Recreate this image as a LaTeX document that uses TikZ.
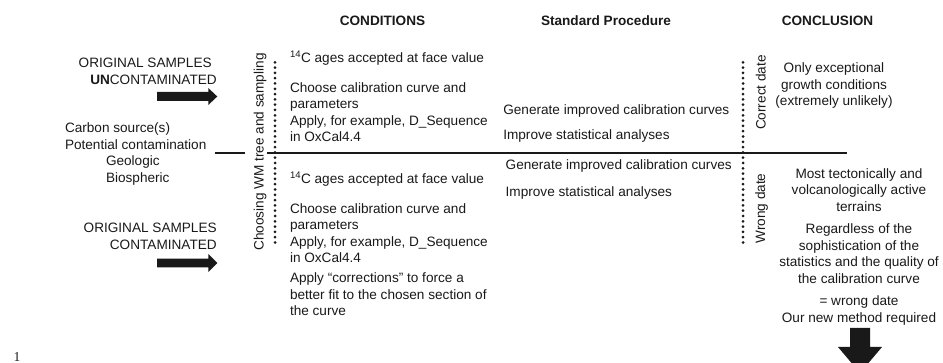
\documentclass[tikz,border=0pt]{standalone}
\usepackage{fontspec}
\setmainfont{Liberation Sans}
\newfontfamily\serifone{Liberation Serif}
\newcommand{\fsz}{\fontsize{13.6}{16.5}\selectfont}
\begin{document}
\begin{tikzpicture}[x=1pt,y=-1pt,
  txt/.style={inner sep=0pt,outer sep=0pt,font=\fsz,text=black!90},
  lt/.style={txt,anchor=base west},
  rt/.style={txt,anchor=base east},
  ct/.style={txt,anchor=base},
  hdr/.style={txt,anchor=base,font=\fsz\bfseries},
  rot/.style={txt,anchor=center,rotate=90},
  dots/.style={line width=3pt,line cap=round,dash pattern=on 0pt off 5.3pt,black!90},
  rule/.style={line width=2pt,black!90},
  blk/.style={fill=black!90,draw=none}]
\useasboundingbox (0,0) rectangle (943,363);
\clip (0,0) rectangle (943,363);

% headers
\node[hdr] (hcond) at (382.5,26) {CONDITIONS};
\node[hdr] (hstd) at (606,26) {Standard Procedure};
\node[hdr] (hconc) at (827.5,26) {CONCLUSION};

% left texts
\node[rt] (os1) at (211.7,68) {ORIGINAL SAMPLES};
\node[rt] (unc) at (216.7,85) {\textbf{UN}CONTAMINATED};
\node[lt] (cs1) at (65,132.7) {Carbon source(s)};
\node[lt] (cs2) at (65,149.5) {Potential contamination};
\node[lt] (cs3) at (106,166) {Geologic};
\node[lt] (cs4) at (106,182.7) {Biospheric};
\node[rt] (os2) at (216.7,232.7) {ORIGINAL SAMPLES};
\node[rt] (con) at (216.7,249.3) {CONTAMINATED};

% arrows
\fill[blk] (157,92) -- (208.3,92) -- (208.3,88) -- (217.3,96.5) -- (208.3,105) -- (208.3,101) -- (157,101) -- cycle;
\fill[blk] (157,258.7) -- (208.3,258.7) -- (208.3,254) -- (217.3,263) -- (208.3,272) -- (208.3,267.5) -- (157,267.5) -- cycle;
\fill[blk] (850,328) -- (870,328) -- (870,347) -- (882,347) -- (860,373) -- (838,347) -- (850,347) -- cycle;

% separators
\coordinate (hl1) at (215,153);
\coordinate (hl2) at (245,153);
\coordinate (hl3) at (267,153);
\coordinate (hl4) at (847,153);
\draw[rule] (hl1) -- (hl2);
\draw[rule] (hl3) -- (hl4);
\coordinate (d1t) at (275,62.3);
\coordinate (d1b) at (275,242.7);
\coordinate (d2t) at (743,62.3);
\coordinate (d2b) at (743,242.7);
\draw[dots] (d1t) -- (d1b);
\draw[dots] (d2t) -- (d2b);

% rotated labels
\node[rot] (choose) at (260,152) {Choosing WM tree and sampling};
\node[rot] (corr) at (760.8,92.5) {Correct date};
\node[rot] (wrong) at (761.5,208.5) {Wrong date};

% conditions upper
\node[lt] (cu1) at (290,62.3) {\textsuperscript{14}C ages accepted at face value};
\node[lt] (cu2) at (290,92.3) {Choose calibration curve and};
\node[lt] (cu3) at (290,108.8) {parameters};
\node[lt] (cu4) at (290,125.3) {Apply, for example, D\_Sequence};
\node[lt] (cu5) at (290,141.8) {in OxCal4.4};

% conditions lower
\node[lt] (cl1) at (290,183.3) {\textsuperscript{14}C ages accepted at face value};
\node[lt] (cl2) at (290,213.3) {Choose calibration curve and};
\node[lt] (cl3) at (290,229.8) {parameters};
\node[lt] (cl4) at (290,246.3) {Apply, for example, D\_Sequence};
\node[lt] (cl5) at (290,262.8) {in OxCal4.4};
\node[lt] (cl6) at (290,283) {Apply “corrections” to force a};
\node[lt] (cl7) at (290,299.5) {better fit to the chosen section of};
\node[lt] (cl8) at (290,316) {the curve};

% standard procedure
\node[lt] (su1) at (503.3,114.3) {Generate improved calibration curves};
\node[lt] (su2) at (503.3,140) {Improve statistical analyses};
\node[lt] (sl1) at (505.7,170) {Generate improved calibration curves};
\node[lt] (sl2) at (505.7,196.7) {Improve statistical analyses};

% conclusion upper
\node[ct] (ku1) at (834,72.7) {Only exceptional};
\node[ct] (ku2) at (834,89.2) {growth conditions};
\node[ct] (ku3) at (834,105.7) {(extremely unlikely)};

% conclusion lower
\node[ct] (kl1) at (859,178.3) {Most tectonically and};
\node[ct] (kl2) at (859,194.8) {volcanologically active};
\node[ct] (kl3) at (859,211.3) {terrains};
\node[ct] (kl4) at (859,234) {Regardless of the};
\node[ct] (kl5) at (859,250.5) {sophistication of the};
\node[ct] (kl6) at (859,267) {statistics and the quality of};
\node[ct] (kl7) at (859,283.5) {the calibration curve};
\node[ct] (kl8) at (859,306) {= wrong date};
\node[ct] (kl9) at (859,322.5) {Our new method required};

% figure number
\node[txt,anchor=base west,font=\serifone\fontsize{13.6}{16}\selectfont] (fig) at (13.5,361.3) {1};
\end{tikzpicture}
\end{document}
